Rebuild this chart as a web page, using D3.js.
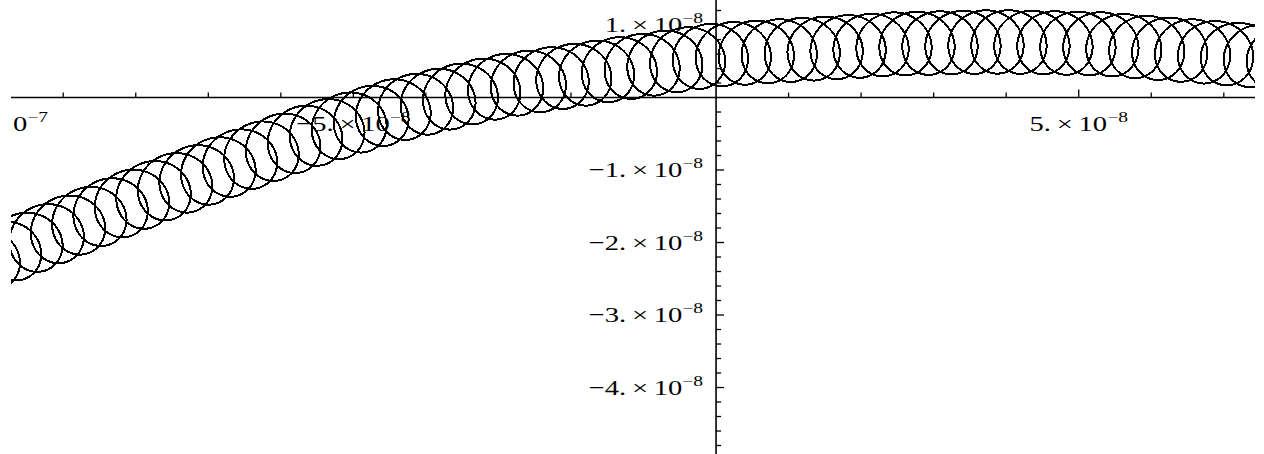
<!DOCTYPE html>
<html>
<head>
<meta charset="utf-8">
<script src="https://cdn.jsdelivr.net/npm/d3@7"></script>
<style>
html, body { margin: 0; padding: 0; background: #fff; }
svg { display: block; }
.lbl { font-family: "Liberation Serif", "Times New Roman", serif; font-size: 22px; fill: #000; }
</style>
</head>
<body>
<div id="chart"></div>
<script>
// all values in units of 1e-8
// drift path of the guiding centre
const guideX = [-9.9, -7.8, -5.7, -4.4, -3.0, 0, 2.5, 3.9, 5.3, 7.5];
const guideY = [-2.18, -1.33, -0.56, -0.17, 0.15, 0.59, 0.74, 0.77, 0.74, 0.57];

// gyration loops: radius, distance between loops, x of one loop top
const loopRadius = 0.437;
const loopPitch = 0.317;
const loopTopX = 2.77;

// tick labels
const xLabelValues = [-10, -5, 5];
const xLabelMantissa = ["\u22121.", "\u22125.", "5."];
const xLabelExp = ["\u22127", "\u22128", "\u22128"];
const yLabelValues = [1, -1, -2, -3, -4];
const yLabelMantissa = ["1.", "\u22121.", "\u22122.", "\u22123.", "\u22124."];
const yLabelExp = ["\u22128", "\u22128", "\u22128", "\u22128", "\u22128"];

const width = 1264, height = 454;

const x = d3.scaleLinear().domain([-9.72, 7.43]).range([11, 1255]);
const y = d3.scaleLinear().domain([1.345, -4.917]).range([0, 454]);

const svg = d3.select("#chart").append("svg")
    .attr("width", width)
    .attr("height", height);

svg.append("defs").append("clipPath")
    .attr("id", "plot-clip")
    .append("rect")
    .attr("x", x.range()[0]).attr("y", 0)
    .attr("width", x.range()[1] - x.range()[0]).attr("height", height);

// guiding centre as function of x
const guide = d3.scaleLinear().domain(guideX).range(guideY);

// loop anchors: step along the drift path by a fixed arc length
function stepFrom(x0, dir) {
    const out = [];
    let cx = x0;
    while (cx > -10.6 && cx < 8.2) {
        out.push(cx);
        const h = 0.01;
        const slope = (guide(cx + h) - guide(cx - h)) / (2 * h);
        cx += dir * loopPitch / Math.sqrt(1 + slope * slope);
    }
    return out;
}
const anchors = stepFrom(loopTopX, -1).slice(1).reverse().concat(stepFrom(loopTopX, 1))
    .map(v => [v, guide(v)]);

// trajectory points
const traj = [];
const steps = 36;
for (let k = 0; k < anchors.length - 1; k++) {
    const [x0, y0] = anchors[k], [x1, y1] = anchors[k + 1];
    for (let i = 0; i < steps; i++) {
        const f = i / steps, t = 2 * Math.PI * f;
        traj.push([
            x0 + f * (x1 - x0) + loopRadius * Math.sin(t),
            y0 + f * (y1 - y0) + loopRadius * Math.cos(t)
        ]);
    }
}

const line = d3.line()
    .x(d => x(d[0]))
    .y(d => y(d[1]))
    .curve(d3.curveCatmullRom);

svg.append("path")
    .datum(traj)
    .attr("clip-path", "url(#plot-clip)")
    .attr("d", line)
    .attr("fill", "none")
    .attr("stroke", "#000")
    .attr("stroke-width", 2)
    .attr("shape-rendering", "crispEdges");

// axes
const axes = svg.append("g").attr("stroke", "#000");
axes.append("line")
    .attr("x1", x.range()[0]).attr("x2", x.range()[1])
    .attr("y1", y(0)).attr("y2", y(0))
    .attr("stroke-width", 1.6);
axes.append("line")
    .attr("x1", x(0)).attr("x2", x(0))
    .attr("y1", 0).attr("y2", height)
    .attr("stroke-width", 1.6);

// x ticks: major every 5, minor every 1, pointing up
const xTicks = d3.range(-9, 8, 1);
axes.selectAll(".xt").data(xTicks.filter(v => v !== 0)).enter()
    .append("line")
    .attr("x1", d => x(d)).attr("x2", d => x(d))
    .attr("y1", y(0))
    .attr("y2", d => y(0) - (d % 5 === 0 ? 8 : 5))
    .attr("stroke-width", 1.3);

// y ticks: major every 1, minor every 0.2, pointing right
const yTicks = d3.range(-24, 7).map(v => v / 5);
axes.selectAll(".yt").data(yTicks.filter(v => v !== 0)).enter()
    .append("line")
    .attr("y1", d => y(d)).attr("y2", d => y(d))
    .attr("x1", x(0))
    .attr("x2", d => x(0) + (Math.abs(d - Math.round(d)) < 1e-6 ? 8 : 5))
    .attr("stroke-width", 1.3);

// tick labels, drawn horizontally stretched like the picture
function label(g, mant, exp) {
    g.append("tspan").text(mant + "\u2009\u00d7\u200910");
    g.append("tspan").attr("dy", -9).attr("font-size", 15).text(exp);
}

const xl = svg.append("g").attr("clip-path", "url(#plot-clip)");
xLabelValues.forEach((v, i) => {
    const t = xl.append("text")
        .attr("class", "lbl")
        .attr("text-anchor", "middle")
        .attr("transform", `translate(${x(v)},${y(0) + 33}) scale(1.3,1)`);
    label(t, xLabelMantissa[i], xLabelExp[i]);
});

yLabelValues.forEach((v, i) => {
    const t = svg.append("text")
        .attr("class", "lbl")
        .attr("text-anchor", "end")
        .attr("transform", `translate(${x(0) - 13},${y(v) + 7}) scale(1.3,1)`);
    label(t, yLabelMantissa[i], yLabelExp[i]);
});
</script>
</body>
</html>
